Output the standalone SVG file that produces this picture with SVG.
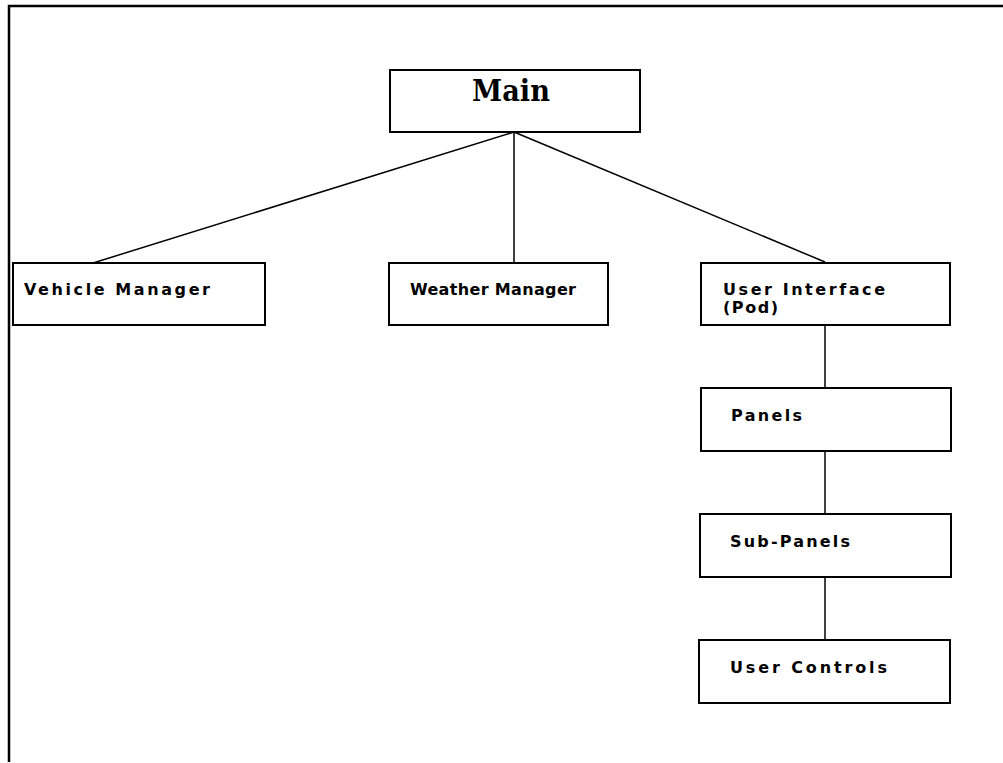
<svg xmlns="http://www.w3.org/2000/svg" width="1003" height="763" viewBox="0 0 1003 763">
<style>
.box{fill:#fff;stroke:#000;stroke-width:2}
.lbl{font-family:"DejaVu Sans","Liberation Sans",sans-serif;font-weight:bold;font-size:16px;fill:#000}
.ttl{font-family:"DejaVu Serif","Liberation Serif",serif;font-weight:bold;font-size:29px;fill:#000}
.con line{stroke:#000;stroke-width:1.5}
</style>
<rect width="1003" height="763" fill="#fff"/>
<g id="frame" fill="none" stroke="#000" stroke-width="2.5">
<path d="M9,762 V6 H1003"/>
</g>
<g class="con" id="connectors">
<line x1="514" y1="132" x2="93" y2="263"/>
<line x1="514" y1="132" x2="514" y2="262"/>
<line x1="514" y1="132" x2="825" y2="262"/>
<line x1="825" y1="325" x2="825" y2="388"/>
<line x1="825" y1="451" x2="825" y2="514"/>
<line x1="825" y1="577" x2="825" y2="640"/>
</g>
<g id="main"><rect class="box" x="390" y="70" width="250" height="62"/><text class="ttl" x="472" y="101" textLength="78" lengthAdjust="spacingAndGlyphs">Main</text></g>
<g id="vehicle"><rect class="box" x="13" y="263" width="252" height="62"/><text class="lbl" x="24" y="295" textLength="186" lengthAdjust="spacing">Vehicle Manager</text></g>
<g id="weather"><rect class="box" x="389" y="263" width="219" height="62"/><text class="lbl" x="410" y="295" textLength="166" lengthAdjust="spacing">Weather Manager</text></g>
<g id="ui"><rect class="box" x="701" y="263" width="249" height="62"/><text class="lbl" x="723" y="295" textLength="162" lengthAdjust="spacing">User Interface</text><text class="lbl" x="723" y="313" textLength="55" lengthAdjust="spacing">(Pod)</text></g>
<g id="panels"><rect class="box" x="701" y="388" width="250" height="63"/><text class="lbl" x="731" y="421" textLength="71" lengthAdjust="spacing">Panels</text></g>
<g id="subpanels"><rect class="box" x="700" y="514" width="251" height="63"/><text class="lbl" x="730" y="547" textLength="120" lengthAdjust="spacing">Sub-Panels</text></g>
<g id="controls"><rect class="box" x="699" y="640" width="251" height="63"/><text class="lbl" x="730" y="673" textLength="157" lengthAdjust="spacing">User Controls</text></g>
</svg>
